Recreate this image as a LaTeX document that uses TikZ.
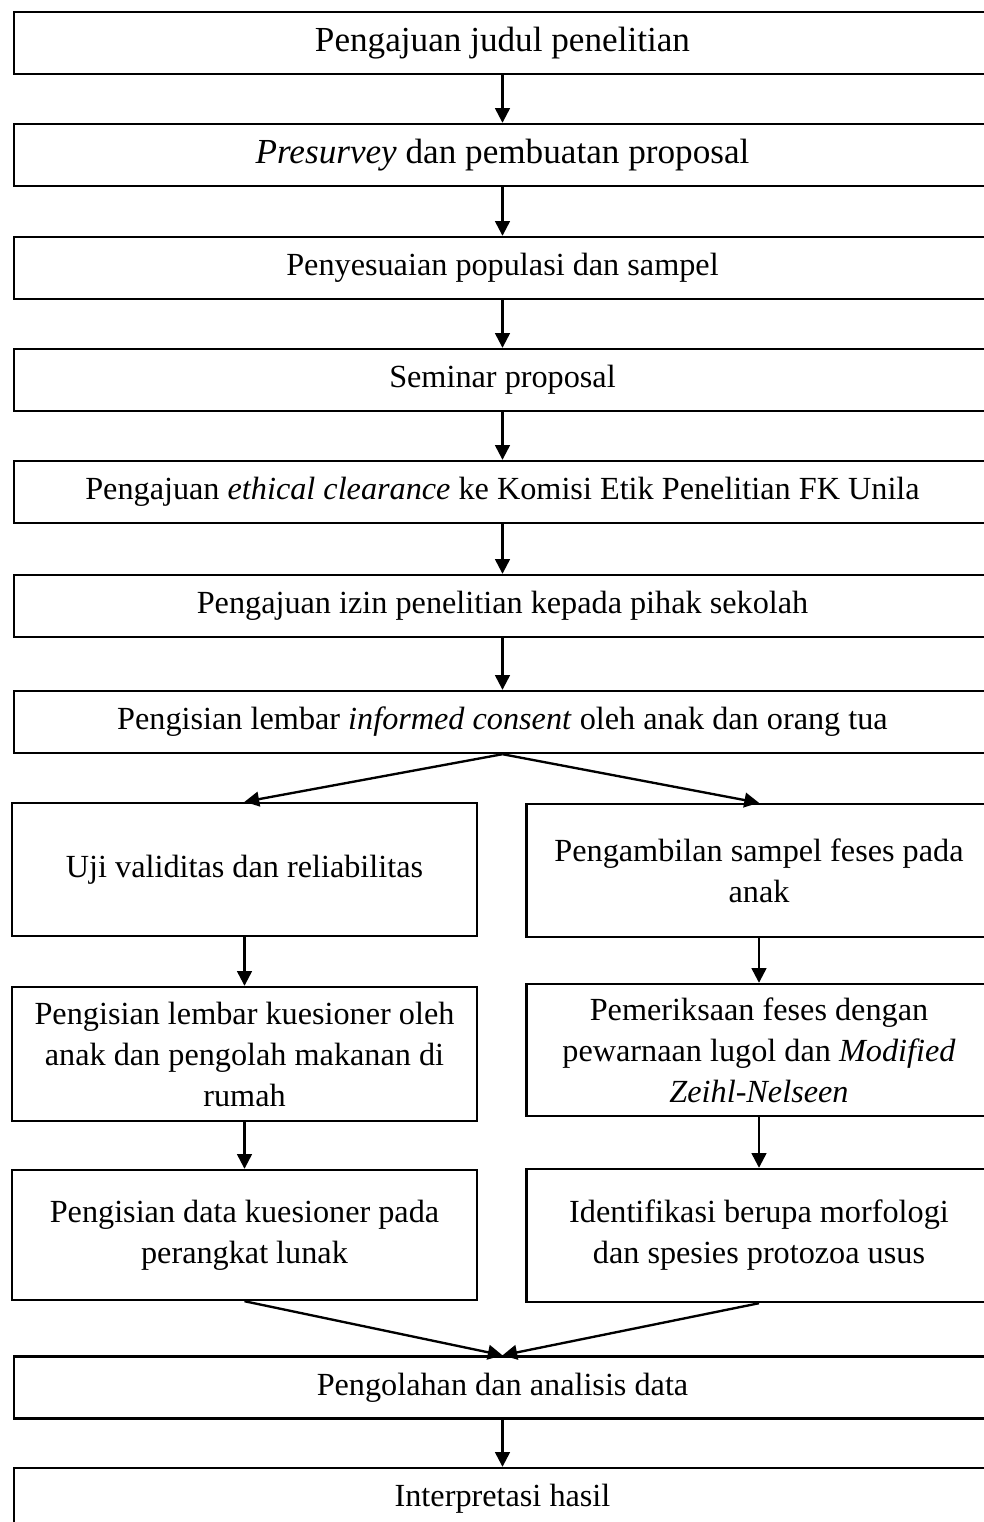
\documentclass[tikz,border=0pt]{standalone}
\usepackage{fontspec}
\setmainfont{Liberation Serif}
\usetikzlibrary{arrows.meta,positioning}

\begin{document}
\begin{tikzpicture}[x=0.012cm,y=-0.012cm,
every node/.style={draw,line width=0.8pt,align=center,font=\fontsize{11}{14}\selectfont},
big/.style={font=\fontsize{12}{14}\selectfont},
wide/.style={minimum width=11.724cm,minimum height=0.744cm},
half/.style={minimum width=5.58cm,minimum height=1.596cm},
arr/.style={line width=0.8pt,-{Triangle[length=5pt,width=5pt]}}]
\useasboundingbox (0,0) rectangle (984,1522);
\clip (0,0) rectangle (984,1522);
\node[wide,big] (B1) at (502.5,43) {Pengajuan judul penelitian};
\node[wide,big] (B2) at (502.5,155) {\textit{Presurvey} dan pembuatan proposal};
\node[wide] (B3) at (502.5,268) {Penyesuaian populasi dan sampel};
\node[wide] (B4) at (502.5,380) {Seminar proposal};
\node[wide] (B5) at (502.5,492) {Pengajuan \textit{ethical clearance} ke Komisi Etik Penelitian FK Unila};
\node[wide] (B6) at (502.5,606) {Pengajuan izin penelitian kepada pihak sekolah};
\node[wide] (B7) at (502.5,722) {Pengisian lembar \textit{informed consent} oleh anak dan orang tua};
\node[half] (L1) at (244.5,869.5) {Uji validitas dan reliabilitas};
\node[half] (R1) at (759,870.5) {Pengambilan sampel feses pada\\anak};
\node[half,minimum height=1.608cm] (L2) at (244.5,1054) {Pengisian lembar kuesioner oleh\\anak dan pengolah makanan di\\rumah};
\node[half,minimum height=1.584cm] (R2) at (759,1050) {Pemeriksaan feses dengan\\pewarnaan lugol dan \textit{Modified}\\\textit{Zeihl-Nelseen}};
\node[half,minimum height=1.56cm] (L3) at (244.5,1235) {Pengisian data kuesioner pada\\perangkat lunak};
\node[half] (R3) at (759,1235.5) {Identifikasi berupa morfologi\\dan spesies protozoa usus};
\node[wide] (B8) at (502.5,1387.5) {Pengolahan dan analisis data};
\node[wide] (B9) at (502.5,1499) {Interpretasi hasil};
\draw[arr] (B1)--(B2);
\draw[arr] (B2)--(B3);
\draw[arr] (B3)--(B4);
\draw[arr] (B4)--(B5);
\draw[arr] (B5)--(B6);
\draw[arr] (B6)--(B7);
\draw[arr] (B7.south)--(L1.north);
\draw[arr] (B7.south)--(R1.north);
\draw[arr] (L1)--(L2);
\draw[arr] (L2)--(L3);
\draw[arr] (R1)--(R2);
\draw[arr] (R2)--(R3);
\draw[arr] (L3.south)--(B8.north);
\draw[arr] (R3.south)--(B8.north);
\draw[arr] (B8)--(B9);
\end{tikzpicture}
\end{document}
